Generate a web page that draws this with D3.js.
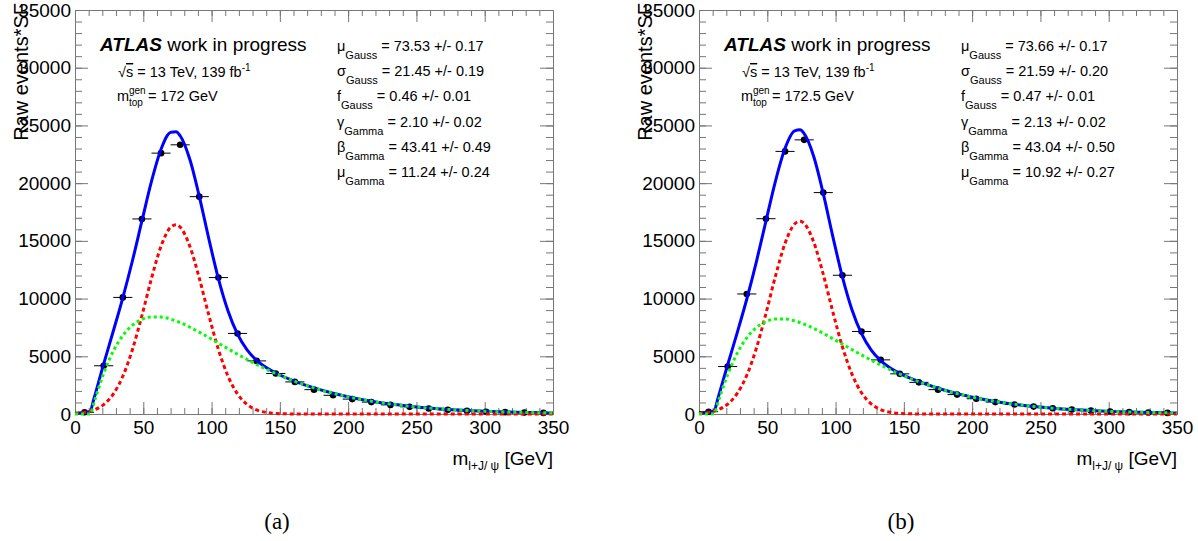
<!DOCTYPE html>
<html lang="en">

<head>
    <meta charset="UTF-8">
    <title>m(l+J/psi) fit, Gauss + Gamma</title>
    <script src="https://d3js.org/d3.v7.min.js"></script>
    <style>
        body {
            margin: 0;
            background: #fff;
        }

        text {
            font-family: "Liberation Sans", Arial, Helvetica, sans-serif;
        }

        .frame path.domain,
        .frame line {
            stroke: #777;
        }
    </style>
</head>

<body>
    <svg id="chart"></svg>

    <script>
        // bin centres of the histogram (GeV) and the raw events*SF per bin
        const binCenters = [7, 21, 35, 49, 63, 77, 91, 105, 119, 133, 147, 161, 175, 189, 203, 217, 231, 245, 259, 273, 287, 301, 315, 329, 343];
        const countsA = [150, 4180, 10100, 16900, 22600, 23320, 18830, 11820, 6980, 4600, 3510, 2780, 2110, 1620, 1290, 1030, 790, 620, 470, 360, 270, 200, 160, 120, 95];
        const countsB = [200, 4110, 10400, 16920, 22750, 23750, 19180, 12020, 7150, 4690, 3480, 2740, 2110, 1680, 1320, 1030, 820, 640, 495, 380, 290, 215, 165, 125, 95];

        const curveX = [0, 7, 11, 14, 21, 28, 35, 42, 49, 56, 63, 70, 74, 77, 84, 91, 98, 105, 112, 119, 126, 133, 140, 147, 161, 175, 189, 203, 217, 231, 245, 259, 273, 287, 301, 315, 329, 343, 350];

        const totalA = [46, 134, 234, 1382, 4346, 7165, 10068, 13254, 16724, 20155, 22937, 24399, 24455, 24105, 22088, 18860, 15176, 11723, 8938, 6912, 5547, 4641, 4018, 3549, 2831, 2259, 1791, 1410, 1103, 859, 666, 514, 396, 304, 232, 177, 135, 102, 89];
        const gaussA = [46, 134, 234, 349, 818, 1723, 3269, 5568, 8528, 11744, 14538, 16180, 16396, 16187, 14558, 11770, 8556, 5591, 3284, 1734, 823, 351, 135, 46, 4, 0, 0, 0, 0, 0, 0, 0, 0, 0, 0, 0, 0, 0, 0];
        const gammaA = [0, 0, 0, 1033, 3528, 5442, 6799, 7686, 8196, 8411, 8399, 8219, 8059, 7918, 7530, 7090, 6620, 6132, 5654, 5178, 4724, 4290, 3883, 3503, 2827, 2259, 1791, 1410, 1103, 859, 666, 514, 396, 304, 232, 177, 135, 102, 89];

        const totalB = [50, 142, 268, 1420, 4269, 7054, 9962, 13186, 16700, 20184, 23019, 24531, 24619, 24283, 22307, 19085, 15371, 11877, 9032, 6958, 5554, 4620, 3984, 3514, 2798, 2231, 1768, 1391, 1088, 846, 655, 505, 388, 298, 227, 173, 132, 100, 87];
        const gaussB = [50, 142, 248, 367, 853, 1785, 3360, 5700, 8697, 11952, 14783, 16461, 16698, 16501, 14890, 12096, 8846, 5823, 3452, 1840, 885, 382, 149, 52, 5, 0, 0, 0, 0, 0, 0, 0, 0, 0, 0, 0, 0, 0, 0];
        const gammaB = [0, 0, 20, 1053, 3416, 5269, 6602, 7486, 8003, 8232, 8236, 8070, 7921, 7782, 7417, 6989, 6525, 6054, 5580, 5118, 4669, 4238, 3835, 3462, 2793, 2231, 1768, 1391, 1088, 846, 655, 505, 388, 298, 227, 173, 132, 100, 87];

        // fit parameter box
        const paramSymbols = ['μ', 'σ', 'f', 'γ', 'β', 'μ'];
        const paramSubs = ['Gauss', 'Gauss', 'Gauss', 'Gamma', 'Gamma', 'Gamma'];
        const valuesA = ['73.53 +/- 0.17', '21.45 +/- 0.19', '0.46 +/- 0.01', '2.10 +/- 0.02', '43.41 +/- 0.49', '11.24 +/- 0.24'];
        const valuesB = ['73.66 +/- 0.17', '21.59 +/- 0.20', '0.47 +/- 0.01', '2.13 +/- 0.02', '43.04 +/- 0.50', '10.92 +/- 0.27'];

        const width = 1198;
        const height = 541;
        const plotW = 478;
        const plotH = 404;

        const svg = d3.select('#chart')
            .attr('width', width)
            .attr('height', height);

        svg.append('rect').attr('width', width).attr('height', height).attr('fill', '#fff');

        const panels = [
            { offset: 0, counts: countsA, total: totalA, gauss: gaussA, gamma: gammaA, values: valuesA, mtop: '172', caption: '(a)' },
            { offset: 624, counts: countsB, total: totalB, gauss: gaussB, gamma: gammaB, values: valuesB, mtop: '172.5', caption: '(b)' }
        ];

        panels.forEach(drawPanel);

        function drawPanel(p) {
            const g = svg.append('g').attr('transform', `translate(${75 + p.offset},10)`);

            const x = d3.scaleLinear().domain([0, 350]).range([0, plotW]);
            const y = d3.scaleLinear().domain([0, 35000]).range([plotH, 0]);

            // ROOT style frame: ticks inward on all four sides
            const minorX = x.ticks(35);
            const minorY = y.ticks(35);
            g.append('g').attr('class', 'frame').attr('transform', `translate(0,${plotH})`)
                .call(d3.axisBottom(x).tickValues(minorX).tickSize(-6).tickFormat(''));
            g.append('g').attr('class', 'frame')
                .call(d3.axisTop(x).tickValues(minorX).tickSize(-6).tickFormat(''));
            g.append('g').attr('class', 'frame')
                .call(d3.axisLeft(y).tickValues(minorY).tickSize(-7).tickFormat(''));
            g.append('g').attr('class', 'frame').attr('transform', `translate(${plotW},0)`)
                .call(d3.axisRight(y).tickValues(minorY).tickSize(-7).tickFormat(''));

            g.append('g').attr('class', 'frame').attr('transform', `translate(0,${plotH})`)
                .call(d3.axisBottom(x).ticks(7).tickSize(-12).tickPadding(7))
                .attr('font-size', 19);
            g.append('g').attr('class', 'frame')
                .call(d3.axisTop(x).ticks(7).tickSize(-12).tickFormat(''));
            g.append('g').attr('class', 'frame')
                .call(d3.axisLeft(y).ticks(7).tickSize(-13).tickPadding(4).tickFormat(d3.format('d')))
                .attr('font-size', 19);
            g.append('g').attr('class', 'frame').attr('transform', `translate(${plotW},0)`)
                .call(d3.axisRight(y).ticks(7).tickSize(-13).tickFormat(''));

            // data points with bin-width error bars
            const pts = binCenters.map((c, i) => ({ c: c, v: p.counts[i] }));
            g.selectAll('.xerr')
                .data(pts)
                .enter().append('line')
                .attr('x1', d => x(d.c - 7))
                .attr('x2', d => x(d.c + 7))
                .attr('y1', d => y(d.v))
                .attr('y2', d => y(d.v))
                .attr('stroke', '#000')
                .attr('stroke-width', 1);
            g.selectAll('.pt')
                .data(pts)
                .enter().append('circle')
                .attr('cx', d => x(d.c))
                .attr('cy', d => y(d.v))
                .attr('r', 3.3)
                .attr('fill', '#000');

            // fit curves
            const line = d3.line()
                .x(d => x(d[0]))
                .y(d => y(d[1]))
                .curve(d3.curveMonotoneX);

            const curves = [
                { vals: p.total, color: '#0000ff', dash: null },
                { vals: p.gauss, color: '#ff0000', dash: '4,3' },
                { vals: p.gamma, color: '#00ff00', dash: '3,3' }
            ];
            curves.forEach(cv => {
                g.append('path')
                    .datum(curveX.map((xv, i) => [xv, cv.vals[i]]))
                    .attr('d', line)
                    .attr('fill', 'none')
                    .attr('stroke', cv.color)
                    .attr('stroke-width', 3)
                    .attr('stroke-dasharray', cv.dash);
            });

            // labels, in page coordinates shifted by the panel offset
            const t = svg.append('g').attr('transform', `translate(${p.offset},0)`);

            t.append('text')
                .attr('transform', 'translate(28,3) rotate(-90)')
                .attr('text-anchor', 'end')
                .attr('font-size', 20)
                .text('Raw events*SF');

            const xl = t.append('text')
                .attr('x', 553)
                .attr('y', 465)
                .attr('text-anchor', 'end')
                .attr('font-size', 19);
            xl.append('tspan').text('m');
            xl.append('tspan').attr('font-size', 12).attr('dy', 5).text('l+J/ ψ');
            xl.append('tspan').attr('dy', -5).text(' [GeV]');

            const atlas = t.append('text').attr('x', 100).attr('y', 51).attr('font-size', 19);
            atlas.append('tspan').attr('font-weight', 'bold').attr('font-style', 'italic').text('ATLAS');
            atlas.append('tspan').text(' work in progress');

            const lumi = t.append('text').attr('x', 118).attr('y', 77).attr('font-size', 14.5);
            lumi.append('tspan').text('√');
            lumi.append('tspan').style('text-decoration', 'overline').text('s');
            lumi.append('tspan').text(' = 13 TeV, 139 fb');
            lumi.append('tspan').attr('font-size', 10).attr('dy', -6).text('-1');

            t.append('text').attr('x', 117).attr('y', 101).attr('font-size', 14.5).text('m');
            t.append('text').attr('x', 129).attr('y', 94).attr('font-size', 10).text('gen');
            t.append('text').attr('x', 129).attr('y', 106).attr('font-size', 10).text('top');
            t.append('text').attr('x', 148).attr('y', 101).attr('font-size', 14.5).text(`= ${p.mtop} GeV`);

            paramSymbols.forEach((s, i) => {
                const row = t.append('text')
                    .attr('x', 337)
                    .attr('y', 51 + i * 25.2)
                    .attr('font-size', 14.5);
                row.append('tspan').text(s);
                row.append('tspan').attr('font-size', 11).attr('dy', 8).text(paramSubs[i]);
                row.append('tspan').attr('dy', -8).text(' = ' + p.values[i]);
            });

            t.append('text')
                .attr('x', 277)
                .attr('y', 529)
                .attr('text-anchor', 'middle')
                .attr('font-size', 23)
                .style('font-family', '"Liberation Serif", "DejaVu Serif", serif')
                .text(p.caption);
        }
    </script>
</body>

</html>
